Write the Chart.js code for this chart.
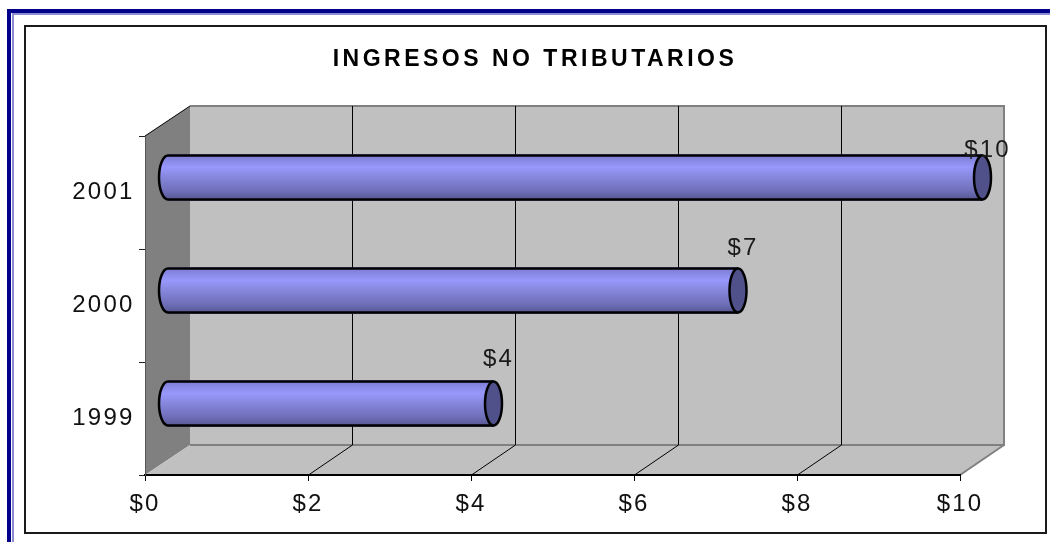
<!DOCTYPE html>
<html>
<head>
<meta charset="utf-8">
<title>Ingresos no tributarios</title>
<script src="https://cdn.jsdelivr.net/npm/chart.js@4"></script>
<style>
    html, body { margin: 0; background: #fff; overflow: hidden; }
    .band { position: absolute; right: 0; bottom: 0; }
    #frameOuter { left: 7px; top: 9px; border-left: 4px solid #00008b; border-top: 4px solid #00008b; }
    #frameInner { left: 12px; top: 13px; border-left: 2px solid #8c8cd2; border-top: 2px solid #8c8cd2; }
    #box { position: absolute; left: 24px; top: 25px; width: 1019px; height: 505px; border: 2px solid #1a1a1a; }
    canvas { position: absolute; left: 0; top: 0; }
</style>
</head>
<body>
<div class="band" id="frameOuter"></div>
<div class="band" id="frameInner"></div>
<div id="box"></div>
<canvas id="ingresosChart" width="1050" height="542"></canvas>
<script>
var years = ['2001', '2000', '1999'];
var ingresos = [10, 7, 4];
var xTicks = [0, 2, 4, 6, 8, 10];

// 3D look: how far the back wall sits from the front plane
var depthX = 45, depthY = -30;
var barThick = 46;
var labelLift = [27, 42, 44];

function barGradient(ctx, top, bottom) {
    var g = ctx.createLinearGradient(0, top, 0, bottom);
    g.addColorStop(0, '#7a7ad0');
    g.addColorStop(0.1, '#8585e0');
    g.addColorStop(0.28, '#9898fc');
    g.addColorStop(0.5, '#8686dc');
    g.addColorStop(0.8, '#6e6eb8');
    g.addColorStop(1, '#55558f');
    return g;
}

function poly(ctx, pts, fill) {
    ctx.beginPath();
    ctx.moveTo(pts[0][0], pts[0][1]);
    for (var i = 1; i < pts.length; i++) ctx.lineTo(pts[i][0], pts[i][1]);
    ctx.closePath();
    ctx.fillStyle = fill;
    ctx.fill();
}

var walls3d = {
    id: 'walls3d',
    afterLayout: function (chart) {
        var block = chart.titleBlock;
        // title is centred a bit right of the canvas middle, and spaced wider than the ticks
        block.left = 110;
        if (block.spaced) return;
        block.spaced = true;
        var drawTitle = block.draw;
        block.draw = function (area) {
            this.ctx.letterSpacing = '3.5px';
            drawTitle.call(this, area);
            this.ctx.letterSpacing = '2.2px';
        };
    },
    beforeDraw: function (chart) {
        var ctx = chart.ctx, a = chart.chartArea, x = chart.scales.x;
        var backRight = a.right + depthX - 1;
        ctx.letterSpacing = '2.2px';
        ctx.save();
        // back wall, left wall, floor
        poly(ctx, [[a.left + depthX, a.top + depthY], [backRight, a.top + depthY], [backRight, a.bottom + depthY], [a.left + depthX, a.bottom + depthY]], '#c0c0c0');
        poly(ctx, [[a.left, a.top], [a.left + depthX, a.top + depthY], [a.left + depthX, a.bottom + depthY], [a.left, a.bottom]], '#808080');
        poly(ctx, [[a.left, a.bottom], [a.right, a.bottom], [backRight, a.bottom + depthY], [a.left + depthX, a.bottom + depthY]], '#c0c0c0');

        // grey outline of the box
        ctx.strokeStyle = '#808080';
        ctx.lineWidth = 2;
        ctx.beginPath();
        ctx.moveTo(a.left + depthX, a.top + depthY);
        ctx.lineTo(backRight, a.top + depthY);
        ctx.lineTo(backRight, a.bottom + depthY);
        ctx.lineTo(a.left + depthX, a.bottom + depthY);
        ctx.moveTo(backRight, a.bottom + depthY);
        ctx.lineTo(a.right, a.bottom);
        ctx.stroke();

        // value gridlines on the wall and across the floor
        ctx.strokeStyle = '#000';
        ctx.lineWidth = 1;
        ctx.beginPath();
        x.ticks.forEach(function (t) {
            if (t.value === 0 || t.value === 10) return;
            var px = Math.round(x.getPixelForValue(t.value)) + 0.5;
            ctx.moveTo(px, a.bottom);
            ctx.lineTo(px + depthX - 1, a.bottom + depthY);
            ctx.lineTo(px + depthX - 1, a.top + depthY);
        });
        ctx.moveTo(a.left, a.top);
        ctx.lineTo(a.left + depthX, a.top + depthY);
        ctx.stroke();
        ctx.restore();
    },
    beforeDatasetsDraw: function (chart) {
        // bars sit half way into the box
        var ctx = chart.ctx;
        var bars = chart.getDatasetMeta(0).data;
        ctx.save();
        ctx.translate(depthX / 2, depthY / 2);
        bars.forEach(function (b) {
            ctx.beginPath();
            ctx.ellipse(b.base, b.y, 9, barThick / 2 - 1, 0, Math.PI / 2, Math.PI * 1.5);
            ctx.fillStyle = barGradient(ctx, b.y - barThick / 2, b.y + barThick / 2);
            ctx.fill();
        });
    },
    afterDatasetsDraw: function (chart) {
        var ctx = chart.ctx;
        var bars = chart.getDatasetMeta(0).data;
        bars.forEach(function (b, i) {
            var r = barThick / 2 - 1;
            ctx.lineWidth = 2.5;
            ctx.strokeStyle = '#000';
            // outline: left end and the two long edges
            ctx.beginPath();
            ctx.ellipse(b.base, b.y, 9, r, 0, Math.PI / 2, Math.PI * 1.5);
            ctx.lineTo(b.x, b.y - r);
            ctx.moveTo(b.base, b.y + r);
            ctx.lineTo(b.x, b.y + r);
            ctx.stroke();

            ctx.beginPath();
            ctx.ellipse(b.x, b.y, 8.5, r, 0, 0, Math.PI * 2);
            ctx.fillStyle = '#50508a';
            ctx.fill();
            ctx.stroke();

            ctx.fillStyle = '#1a1a1a';
            ctx.font = '24px "Liberation Sans"';
            ctx.textAlign = 'center';
            ctx.textBaseline = 'middle';
            ctx.fillText('$' + ingresos[i], b.x + 5, b.y - labelLift[i]);
        });
        ctx.restore();
    }
};

new Chart(document.getElementById('ingresosChart').getContext('2d'), {
    type: 'bar',
    data: {
        labels: years,
        datasets: [{
            label: 'Ingresos no tributarios',
            data: ingresos,
            barThickness: barThick,
            clip: false,
            borderWidth: 0,
            backgroundColor: function (c) {
                var mid = c.chart.scales.y ? c.chart.scales.y.getPixelForValue(c.dataIndex) : NaN;
                if (!isFinite(mid)) return '#8686dc';  // scales not laid out yet
                return barGradient(c.chart.ctx, mid - barThick / 2, mid + barThick / 2);
            }
        }]
    },
    plugins: [walls3d],
    options: {
        indexAxis: 'y',
        responsive: false,
        animation: false,
        layout: { padding: { left: 0, right: 90, top: 0, bottom: 0 } },
        plugins: {
            legend: { display: false },
            tooltip: { enabled: false },
            title: {
                display: true,
                text: 'INGRESOS NO TRIBUTARIOS',
                color: '#000',
                font: { family: '"Liberation Sans"', size: 23, weight: 'bold', lineHeight: 1.2 },
                padding: { top: 46, bottom: 62.4 }
            }
        },
        scales: {
            x: {
                min: 0,
                max: 10,
                afterBuildTicks: function (s) { s.ticks = xTicks.map(function (v) { return { value: v }; }); },
                afterFit: function (s) { s.height = 67; },
                grid: { drawOnChartArea: false, drawTicks: true, tickLength: 6, color: '#000' },
                border: { color: '#000', width: 2 },
                ticks: {
                    maxRotation: 0,
                    padding: 9,
                    color: '#111',
                    font: { family: '"Liberation Sans"', size: 24 },
                    callback: function (v) { return '$' + v; }
                }
            },
            y: {
                afterFit: function (s) { s.width = 145; },
                grid: { drawOnChartArea: false, drawTicks: true, tickLength: 6, color: '#222' },
                border: { color: '#555', width: 1 },
                ticks: {
                    padding: 4.5,
                    color: '#111',
                    font: { family: '"Liberation Sans"', size: 24 }
                }
            }
        }
    }
});
</script>
</body>
</html>
